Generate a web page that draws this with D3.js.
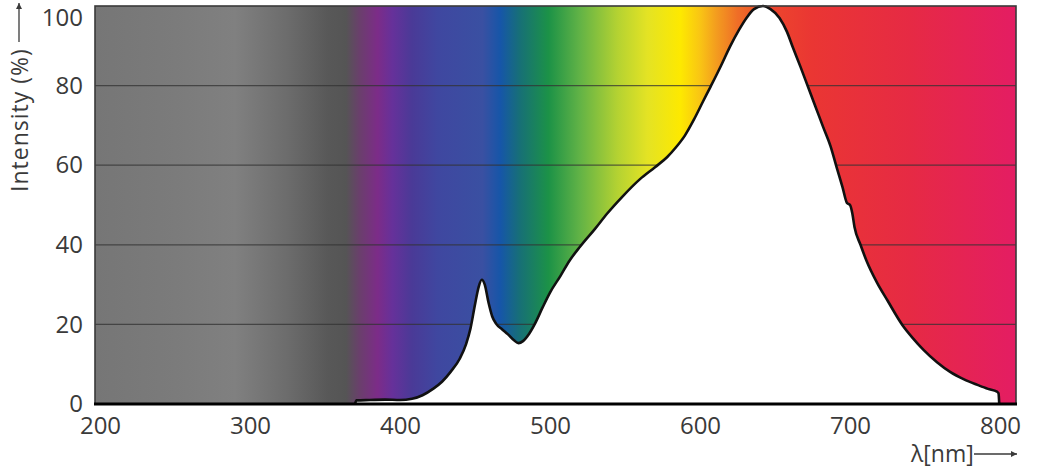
<!DOCTYPE html>
<html>
<head>
<meta charset="utf-8">
<script src="https://cdn.jsdelivr.net/npm/d3@7"></script>
<style>
  html, body { margin: 0; padding: 0; background: #fff; }
  svg { display: block; font-family: "Open Sans", sans-serif; }
</style>
</head>
<body>
<svg id="vis" width="1045" height="469"></svg>
<script>
// spectrum of the lamp, wavelength (nm) vs relative intensity (%)
const wavelength = [370, 371, 380, 390, 400, 408, 415, 422, 428, 434, 440, 444, 447, 450, 452.5, 454.5, 456.5, 459, 461.5, 464, 468, 472, 476, 479, 482, 486, 490, 495, 500, 507, 513, 520, 530, 538, 548, 560, 570, 578, 584, 590, 596, 602, 607, 614, 620, 626, 631, 636, 642, 647, 653, 658, 662, 667, 672, 677, 682, 687, 691, 695, 698, 700, 701.5, 703, 707, 711, 718, 725, 735, 742, 749, 758, 767, 776, 785, 792, 798, 799, 799.5];
const intensity  = [0, 0.9, 1.0, 1.1, 1.0, 1.3, 2.2, 3.8, 5.6, 8.2, 11.5, 15, 19, 25, 29.5, 31.2, 30, 25.5, 22, 20.2, 18.8, 17.5, 16.0, 15.3, 15.8, 17.6, 20.2, 24.2, 28, 32.2, 36, 39.5, 44, 47.8, 52, 56.5, 59.5, 62, 64.5, 67.5, 71.5, 76, 79.7, 85, 89.8, 94, 97, 99.2, 100, 99.2, 97, 93.5, 89.5, 84.7, 79.7, 74.7, 69.7, 64.8, 59.6, 54.5, 50.5, 50, 48, 44.5, 40, 36, 30.5, 26, 19.8, 16.5, 13.6, 10.5, 8, 6.2, 4.8, 3.8, 3.1, 2.7, 0];

const xTicks = [200, 300, 400, 500, 600, 700, 800];
const yTicks = [0, 20, 40, 60, 80, 100];
const gridValues = [20, 40, 60, 80];

// background colour band (nm, colour)
const stopNm    = [196, 250, 290, 325, 352, 364, 373, 385, 395, 408, 425, 455, 467, 480, 499, 520, 545, 565, 587, 600, 611, 625, 645, 675, 740, 811];
const stopColor = ["#767676", "#7b7b7b", "#808080", "#6c6c6c", "#585858", "#555555", "#6a3f6c", "#7c2c88", "#66319a", "#4a3a97", "#3f47a0", "#3a50a2", "#1656a8", "#177076", "#1c9247", "#62b346", "#b4d232", "#e4e324", "#fde900", "#f9c514", "#f39c1f", "#ef6e27", "#ed472c", "#ea3633", "#e62a44", "#e41d63"];

const W = 1045, H = 469;
const plotL = 95, plotR = 1016, plotT = 6, plotB = 404;

const x = d3.scaleLinear().domain([200, 800]).range([100, 1000]);
const y = d3.scaleLinear().domain([0, 100]).range([plotB, plotT]);

const svg = d3.select("#vis");
svg.append("rect").attr("width", W).attr("height", H).attr("fill", "#fff");

const defs = svg.append("defs");
const grad = defs.append("linearGradient")
    .attr("id", "spectrum")
    .attr("gradientUnits", "userSpaceOnUse")
    .attr("x1", plotL).attr("x2", plotR).attr("y1", 0).attr("y2", 0);
grad.selectAll("stop").data(stopNm)
    .join("stop")
    .attr("offset", d => (x(d) - plotL) / (plotR - plotL))
    .attr("stop-color", (d, i) => stopColor[i]);

svg.append("rect")
    .attr("x", plotL).attr("y", plotT)
    .attr("width", plotR - plotL).attr("height", plotB - plotT)
    .attr("fill", "url(#spectrum)");

// grid lines
svg.append("g").selectAll("line").data(gridValues)
    .join("line")
    .attr("x1", plotL).attr("x2", plotR)
    .attr("y1", d => y(d)).attr("y2", d => y(d))
    .attr("stroke", "#333").attr("stroke-opacity", 0.75).attr("stroke-width", 1.3);

const pts = wavelength.map((w, i) => [w, intensity[i]]);

const area = d3.area()
    .x(d => x(d[0])).y0(plotB).y1(d => y(d[1]))
    .curve(d3.curveMonotoneX);
const line = d3.line()
    .x(d => x(d[0])).y(d => y(d[1]))
    .curve(d3.curveMonotoneX);

svg.append("path").datum(pts).attr("d", area).attr("fill", "#fff");
svg.append("path").datum(pts).attr("d", line)
    .attr("fill", "none").attr("stroke", "#111").attr("stroke-width", 2.6)
    .attr("stroke-linejoin", "round");

// frame
svg.append("rect")
    .attr("x", plotL).attr("y", plotT)
    .attr("width", plotR - plotL).attr("height", plotB - plotT)
    .attr("fill", "none").attr("stroke", "#3a3a3a").attr("stroke-width", 1.6);
svg.append("line")
    .attr("x1", plotL - 1).attr("x2", plotR + 1)
    .attr("y1", plotB).attr("y2", plotB)
    .attr("stroke", "#000").attr("stroke-width", 3.2);

// axes
const xAxis = svg.append("g")
    .attr("transform", `translate(0,${plotB})`)
    .call(d3.axisBottom(x).tickValues(xTicks).tickSize(0).tickPadding(13));
const yAxis = svg.append("g")
    .attr("transform", `translate(${plotL},0)`)
    .call(d3.axisLeft(y).tickValues(yTicks).tickSize(0).tickPadding(12));
[xAxis, yAxis].forEach(g => {
    g.select(".domain").remove();
    g.selectAll("text").attr("font-size", 24).attr("fill", "#3a3a3a")
        .attr("font-family", "Open Sans, sans-serif");
});
// top label sits below the frame line
yAxis.selectAll(".tick").filter(d => d === 100).select("text").attr("y", 12);

// axis titles with arrows
defs.append("marker")
    .attr("id", "arrow").attr("viewBox", "0 0 10 10")
    .attr("refX", 10).attr("refY", 5)
    .attr("markerWidth", 8).attr("markerHeight", 6)
    .attr("markerUnits", "userSpaceOnUse")
    .attr("orient", "auto")
    .append("path").attr("d", "M0,0L10,5L0,10Z").attr("fill", "#3a3a3a");

svg.append("text")
    .attr("transform", "translate(28,192) rotate(-90)")
    .attr("font-size", 23).attr("letter-spacing", 1.0).attr("fill", "#3a3a3a")
    .text("Intensity (%)");
svg.append("line")
    .attr("x1", 19).attr("x2", 19).attr("y1", 42).attr("y2", 3)
    .attr("stroke", "#3a3a3a").attr("stroke-width", 1.3)
    .attr("marker-end", "url(#arrow)");

svg.append("text")
    .attr("x", 911).attr("y", 462)
    .attr("font-size", 23).attr("fill", "#3a3a3a")
    .text("λ[nm]");
svg.append("line")
    .attr("x1", 974).attr("x2", 1017).attr("y1", 454).attr("y2", 454)
    .attr("stroke", "#3a3a3a").attr("stroke-width", 1.3)
    .attr("marker-end", "url(#arrow)");
</script>
</body>
</html>
